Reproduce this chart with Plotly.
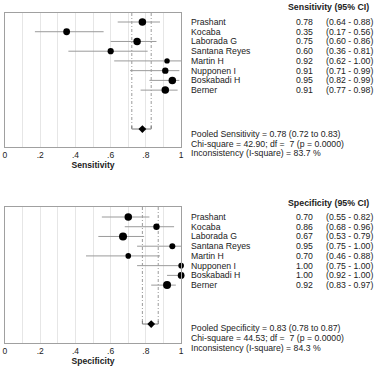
import plotly.graph_objects as go

W, H = 384, 366

studies = ["Prashant", "Kocaba", "Laborada G", "Santana Reyes", "Martin H",
           "Nupponen I", "Boskabadi H", "Berner"]

sens = [0.78, 0.35, 0.75, 0.60, 0.92, 0.91, 0.95, 0.91]
sens_lo = [0.64, 0.17, 0.60, 0.36, 0.62, 0.71, 0.82, 0.77]
sens_hi = [0.88, 0.56, 0.86, 0.81, 1.00, 0.99, 0.99, 0.98]
sens_size = [7.5, 6.8, 7.5, 6.2, 5.4, 6.4, 7.5, 7.5]
sens_pooled = [0.78, 0.72, 0.83]
sens_chi = "Chi-square = 42.90; df =  7 (p = 0.0000)"
sens_i2 = "Inconsistency (I-square) = 83.7 %"

spec = [0.70, 0.86, 0.67, 0.95, 0.70, 1.00, 1.00, 0.92]
spec_lo = [0.55, 0.68, 0.53, 0.75, 0.46, 0.75, 0.92, 0.83]
spec_hi = [0.82, 0.96, 0.79, 1.00, 0.88, 1.00, 1.00, 0.97]
spec_size = [7.5, 6.4, 8.0, 6.0, 5.6, 5.6, 6.8, 8.0]
spec_pooled = [0.83, 0.78, 0.87]
spec_chi = "Chi-square = 44.53; df =  7 (p = 0.0000)"
spec_i2 = "Inconsistency (I-square) = 84.3 %"

tickvals = [0, 0.2, 0.4, 0.6, 0.8, 1.0]
ticktext = ["0", ".2", ".4", ".6", ".8", "1"]

FONT = "Liberation Sans, Arial, sans-serif"
TXT = "#222"
POOLED_ROW = 11


def py(px):
    return 1 - px / H


def pxx(px):
    return px / W


fig = go.Figure()

panels = [
    dict(name="Sensitivity", est=sens, lo=sens_lo, hi=sens_hi, size=sens_size,
         pooled=sens_pooled, chi=sens_chi, i2=sens_i2,
         xa="x", ya="y", top=13, bot=147, row0=22, head=7, lines=[134, 144, 153]),
    dict(name="Specificity", est=spec, lo=spec_lo, hi=spec_hi, size=spec_size,
         pooled=spec_pooled, chi=spec_chi, i2=spec_i2,
         xa="x2", ya="y2", top=207, bot=343, row0=217, head=203, lines=[328, 338, 348]),
]

annotations = []
layout_axes = {}
for i, p in enumerate(panels):
    rows = list(range(len(studies)))
    est, lo, hi = p["est"], p["lo"], p["hi"]
    pe, plo, phi = p["pooled"]
    spacing = 9.73
    ytop = (p["top"] - p["row0"]) / spacing
    ybot = (p["bot"] - p["row0"]) / spacing
    # pooled CI bracket (dash-dot verticals + solid horizontal)
    fig.add_trace(go.Scatter(x=[plo, plo, None, phi, phi], y=[ytop, POOLED_ROW, None, ytop, POOLED_ROW],
                             mode="lines", line=dict(color="#9a9a9a", width=1, dash="3px,2px,1px,2px"),
                             xaxis=p["xa"], yaxis=p["ya"], showlegend=False, hoverinfo="skip"))
    fig.add_trace(go.Scatter(x=[plo, plo, phi, phi], y=[POOLED_ROW - 0.3, POOLED_ROW, POOLED_ROW, POOLED_ROW - 0.3],
                             mode="lines", line=dict(color="#777", width=1),
                             xaxis=p["xa"], yaxis=p["ya"], showlegend=False, hoverinfo="skip"))
    # study CIs (error bars on invisible points), then estimates on top
    fig.add_trace(go.Scatter(
        x=est, y=rows, mode="markers", marker=dict(size=0.1, opacity=0),
        error_x=dict(type="data", symmetric=False,
                     array=[h - e for h, e in zip(hi, est)],
                     arrayminus=[e - l for e, l in zip(est, lo)],
                     color="#9a9a9a", thickness=1, width=0),
        xaxis=p["xa"], yaxis=p["ya"], showlegend=False, hoverinfo="skip"))
    fig.add_trace(go.Scatter(
        x=est, y=rows, mode="markers",
        marker=dict(color="#000", size=p["size"], opacity=1, line=dict(width=0)),
        cliponaxis=False, xaxis=p["xa"], yaxis=p["ya"], showlegend=False))
    # pooled diamond
    fig.add_trace(go.Scatter(x=[pe], y=[POOLED_ROW], mode="markers",
                             marker=dict(symbol="diamond", color="#000", size=6, opacity=1),
                             xaxis=p["xa"], yaxis=p["ya"], showlegend=False))

    sfx = "" if i == 0 else "2"
    layout_axes["xaxis" + sfx] = dict(
        domain=[pxx(3), pxx(181.5)], range=[0, 1], anchor="y" + sfx,
        tickvals=tickvals, ticktext=ticktext, ticks="", showgrid=True,
        gridcolor="#e6e6e6", gridwidth=1,
        minor=dict(dtick=0.1, tick0=0, showgrid=True, gridcolor="#e6e6e6", gridwidth=1),
        showline=True, mirror=True, linecolor="#a0a0a0", linewidth=1,
        zeroline=False, tickfont=dict(size=8.5, color=TXT, family=FONT),
        title=dict(text="<b>" + p["name"] + "</b>", font=dict(size=8.6, color=TXT, family=FONT),
                   standoff=1),
    )
    layout_axes["yaxis" + sfx] = dict(
        domain=[py(p["bot"]), py(p["top"])], range=[ybot, ytop], anchor="x" + sfx,
        showticklabels=False, ticks="", showgrid=False, zeroline=False,
        showline=True, mirror=True, linecolor="#a0a0a0", linewidth=1,
    )

    annotations.append(dict(xref="paper", yref="paper", x=pxx(374), y=py(p["head"]),
                            xanchor="right", yanchor="middle", showarrow=False,
                            text="<b>" + p["name"] + " (95% CI)</b>",
                            font=dict(size=8.8, color=TXT, family=FONT)))
    for r, (s, e, l, h) in enumerate(zip(studies, est, lo, hi)):
        annotations.append(dict(xref="paper", yref="y" + sfx, x=pxx(189), y=r,
                                xanchor="left", yanchor="middle", showarrow=False, text=s,
                                font=dict(size=8.7, color=TXT, family=FONT)))
        annotations.append(dict(xref="paper", yref="y" + sfx, x=pxx(317.5), y=r,
                                xanchor="right", yanchor="middle", showarrow=False, text=f"{e:.2f}",
                                font=dict(size=8.7, color=TXT, family=FONT)))
        annotations.append(dict(xref="paper", yref="y" + sfx, x=pxx(326.5), y=r,
                                xanchor="left", yanchor="middle", showarrow=False,
                                text=f"({l:.2f} - {h:.2f})",
                                font=dict(size=8.7, color=TXT, family=FONT)))
    texts = [f"Pooled {p['name']} = {pe:.2f} ({plo:.2f} to {phi:.2f})", p["chi"], p["i2"]]
    for t, ypx in zip(texts, p["lines"]):
        annotations.append(dict(xref="paper", yref="paper", x=pxx(189), y=py(ypx),
                                xanchor="left", yanchor="middle", showarrow=False, text=t,
                                font=dict(size=8.7, color=TXT, family=FONT)))

fig.update_layout(
    width=W, height=H, margin=dict(l=0, r=0, t=0, b=0),
    paper_bgcolor="white", plot_bgcolor="white",
    font=dict(family=FONT, color=TXT),
    annotations=annotations, **layout_axes,
)

fig.write_html("out.html")
